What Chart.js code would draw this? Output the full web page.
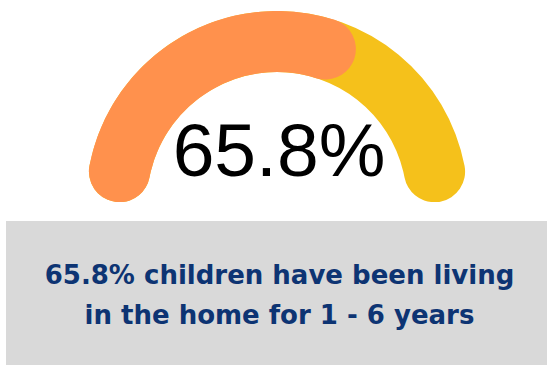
<!DOCTYPE html>
<html>
<head>
<meta charset="utf-8">
<script src="https://cdn.jsdelivr.net/npm/chart.js@4/dist/chart.umd.min.js"></script>
<style>
  html, body { margin: 0; padding: 0; background: #ffffff; }
  body { width: 547px; height: 365px; position: relative; overflow: hidden; }
  #gauge { position: absolute; left: 86px; top: 11px; width: 382px; height: 191px; }
  #value {
    position: absolute; left: 0; width: 558px; top: 107px;
    text-align: center; font-family: "Liberation Sans", Arial, sans-serif;
    font-size: 75px; line-height: 86px; color: #000000;
  }
  #caption {
    position: absolute; left: 6px; top: 221px; right: 0; height: 144px;
    background: #d9d9d9;
  }
  #caption p {
    margin: 0; position: absolute; left: 0; width: 547px; top: 34px;
    text-align: center; font-family: "DejaVu Sans", sans-serif; font-weight: bold;
    font-size: 26px; line-height: 40px; color: #0d3473;
  }
</style>
</head>
<body>
<div id="gauge"><canvas id="chart"></canvas></div>
<div id="value"></div>
<div id="caption"><p id="captionText"></p></div>
<script>
// Share of children by time lived in the home
const labels = ['1 - 6 years', 'Other'];
const shares = [65.8, 34.2];
const captionLines = ['65.8% children have been living', 'in the home for 1 - 6 years'];

const orange = '#ff914d';
const yellow = '#f5c11b';

const total = shares.reduce((a, b) => a + b, 0);

document.getElementById('value').textContent = shares[0] + '%';
document.getElementById('captionText').innerHTML = captionLines.join('<br>');

// Lay the progress ring and the full-length track on the same radius,
// so the rounded end of the progress arc sits on top of the track.
const sameRing = {
  id: 'sameRing',
  beforeDatasetsDraw(chart) {
    const top = chart.getDatasetMeta(0);
    const track = chart.getDatasetMeta(1);
    const outer = top.data[0].outerRadius;
    const inner = track.data[0].innerRadius;
    [...top.data, ...track.data].forEach(el => {
      el.outerRadius = outer;
      el.innerRadius = inner;
    });
  }
};

new Chart(document.getElementById('chart'), {
  type: 'doughnut',
  data: {
    labels: labels,
    datasets: [
      {
        data: shares,
        backgroundColor: [orange, 'rgba(0,0,0,0)'],
        borderWidth: 0,
        borderRadius: 40
      },
      {
        data: [total],
        backgroundColor: [yellow],
        borderWidth: 0,
        borderRadius: 40
      }
    ]
  },
  options: {
    responsive: true,
    maintainAspectRatio: false,
    animation: false,
    rotation: -90,
    circumference: 180,
    cutout: '68%',
    layout: { padding: 0 },
    plugins: {
      legend: { display: false },
      tooltip: { enabled: false }
    },
    events: []
  },
  plugins: [sameRing]
});
</script>
</body>
</html>
